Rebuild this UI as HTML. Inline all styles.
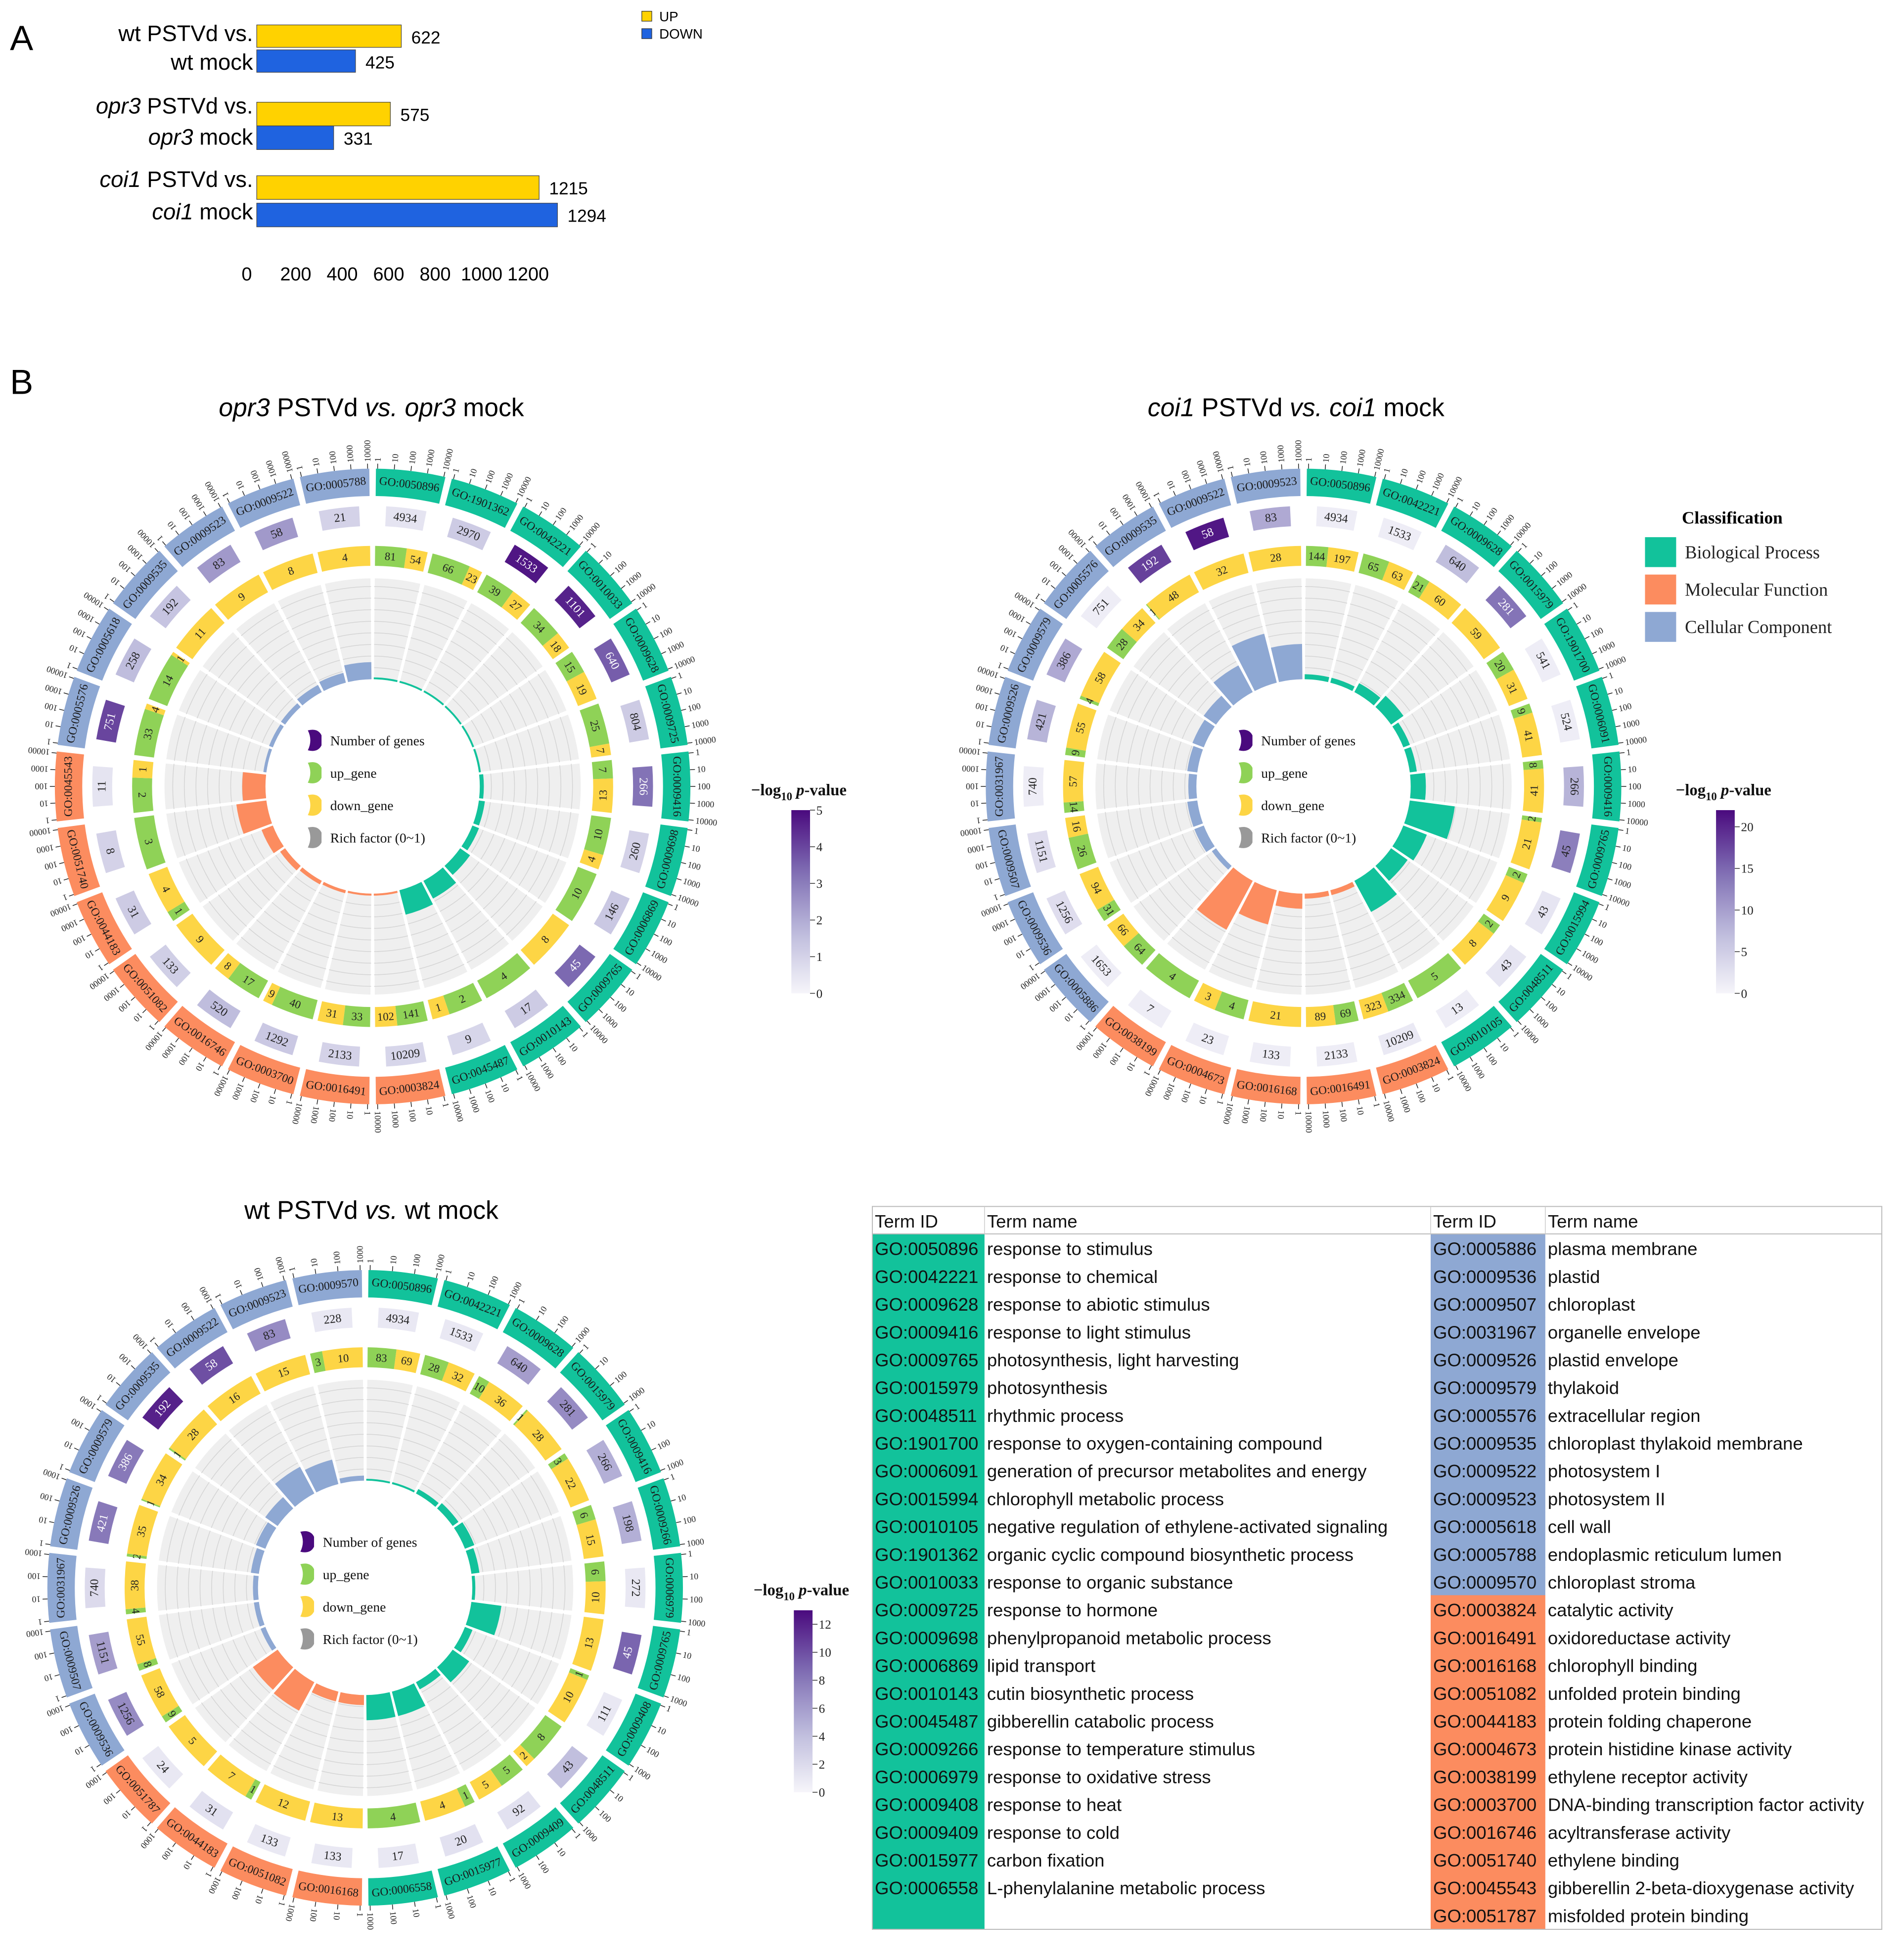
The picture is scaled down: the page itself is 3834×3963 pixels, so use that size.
<!DOCTYPE html>
<html><head><meta charset="utf-8"><style>
html,body{margin:0;padding:0;background:#fff}
svg{display:block}
</style></head><body>
<svg id="fig" xmlns="http://www.w3.org/2000/svg" width="3834" height="3963" viewBox="0 0 1521.4 1572.6">
<rect x="0" y="0" width="1521.4" height="1572.6" fill="#fff"/>
<g id="panelA"></g>
<g id="opr3"></g>
<g id="coi1"></g>
<g id="wt"></g>
<g id="legendCls"></g>
<g id="table"></g>
</svg>
<script>
// ---------- Panel A data ----------
const groupLine1 = ["wt PSTVd vs.", "opr3 PSTVd vs.", "coi1 PSTVd vs."];
const groupLine2 = ["wt mock", "opr3 mock", "coi1 mock"];
const upValues = [622, 575, 1215];
const downValues = [425, 331, 1294];
const axisTicks = [0, 200, 400, 600, 800, 1000, 1200];

// ---------- opr3 circos data ----------
const opr3Ids = ["GO:0050896","GO:1901362","GO:0042221","GO:0010033","GO:0009628","GO:0009725","GO:0009416","GO:0009698","GO:0006869","GO:0009765","GO:0010143","GO:0045487","GO:0003824","GO:0016491","GO:0003700","GO:0016746","GO:0051082","GO:0044183","GO:0051740","GO:0045543","GO:0005576","GO:0005618","GO:0009535","GO:0009523","GO:0009522","GO:0005788"];
const opr3Cls = ["B","B","B","B","B","B","B","B","B","B","B","B","M","M","M","M","M","M","M","M","C","C","C","C","C","C"];
const opr3Genes = [4934,2970,1533,1101,640,804,266,260,146,45,17,9,10209,2133,1292,520,133,31,8,11,751,258,192,83,58,21];
const opr3P = [0.5,1.2,4.8,4.6,3.6,1.2,3.2,1.0,1.3,3.4,1.2,0.9,0.9,1.0,1.3,1.6,1.1,1.2,1.0,0.5,4.0,1.6,1.4,2.4,2.4,1.0];
const opr3Up = [81,66,39,34,15,25,7,10,10,0,4,2,141,33,40,17,0,1,3,2,33,14,0,0,0,0];
const opr3Down = [54,23,27,18,19,7,13,4,0,8,0,1,102,31,9,8,9,4,0,1,4,1,11,9,8,4];
const opr3Rich = [0.01,0.01,0.01,0.015,0.015,0.02,0.04,0.06,0.07,0.12,0.2,0.25,0.02,0.02,0.03,0.04,0.06,0.12,0.3,0.23,0.03,0.04,0.05,0.08,0.1,0.17];

// ---------- coi1 circos data ----------
const coi1Ids = ["GO:0050896","GO:0042221","GO:0009628","GO:0015979","GO:1901700","GO:0006091","GO:0009416","GO:0009765","GO:0015994","GO:0048511","GO:0010105","GO:0003824","GO:0016491","GO:0016168","GO:0004673","GO:0038199","GO:0005886","GO:0009536","GO:0009507","GO:0031967","GO:0009526","GO:0009579","GO:0005576","GO:0009535","GO:0009522","GO:0009523"];
const coi1Cls = ["B","B","B","B","B","B","B","B","B","B","B","M","M","M","M","M","C","C","C","C","C","C","C","C","C","C"];
const coi1Genes = [4934,1533,640,281,541,524,266,45,43,43,13,10209,2133,133,23,7,1653,1256,1151,740,421,386,751,192,58,83];
const coi1P = [1,1,7,14,1,1,8,13,2,2,1,1.5,1,1,1,1,1,3,3,1,8,9,1,18,21,9];
const coi1Up = [144,65,21,0,20,9,8,2,2,2,5,334,69,0,4,4,64,31,26,14,9,4,28,1,0,0];
const coi1Down = [197,63,60,59,31,41,41,21,9,8,0,323,89,21,3,0,66,94,16,57,55,58,34,48,32,28];
const coi1Rich = [0.05,0.05,0.1,0.15,0.07,0.07,0.15,0.45,0.25,0.2,0.35,0.05,0.05,0.15,0.35,0.55,0.05,0.1,0.1,0.08,0.1,0.12,0.15,0.3,0.5,0.35];

// ---------- wt circos data ----------
const wtIds = ["GO:0050896","GO:0042221","GO:0009628","GO:0015979","GO:0009416","GO:0009266","GO:0006979","GO:0009765","GO:0009408","GO:0048511","GO:0009409","GO:0015977","GO:0006558","GO:0016168","GO:0051082","GO:0044183","GO:0051787","GO:0009536","GO:0009507","GO:0031967","GO:0009526","GO:0009579","GO:0009535","GO:0009522","GO:0009523","GO:0009570"];
const wtCls = ["B","B","B","B","B","B","B","B","B","B","B","B","B","M","M","M","M","C","C","C","C","C","C","C","C","C"];
const wtGenes = [4934,1533,640,281,266,198,272,45,111,43,92,20,17,133,133,31,24,1256,1151,740,421,386,192,58,83,228];
const wtP = [1,1,6,7,5,5,1,9,1,4,1.5,1.5,1,1,1,1.5,1,7,6,2,8,8,12,10,7,1];
const wtUp = [83,28,10,1,3,6,6,0,1,8,5,1,4,0,0,1,0,9,8,4,2,1,1,0,0,3];
const wtDown = [69,32,36,28,22,15,10,13,10,2,5,4,0,13,12,7,5,58,55,38,35,34,28,16,15,10];
const wtRich = [0.01,0.02,0.05,0.07,0.1,0.08,0.03,0.3,0.08,0.2,0.08,0.25,0.25,0.1,0.1,0.32,0.3,0.05,0.05,0.05,0.08,0.1,0.15,0.3,0.25,0.05];

// ---------- table data ----------
const leftIds = ["GO:0050896","GO:0042221","GO:0009628","GO:0009416","GO:0009765","GO:0015979","GO:0048511","GO:1901700","GO:0006091","GO:0015994","GO:0010105","GO:1901362","GO:0010033","GO:0009725","GO:0009698","GO:0006869","GO:0010143","GO:0045487","GO:0009266","GO:0006979","GO:0009408","GO:0009409","GO:0015977","GO:0006558"];
const leftNames = ["response to stimulus","response to chemical","response to abiotic stimulus","response to light stimulus","photosynthesis, light harvesting","photosynthesis","rhythmic process","response to oxygen-containing compound","generation of precursor metabolites and energy","chlorophyll metabolic process","negative regulation of ethylene-activated signaling","organic cyclic compound biosynthetic process","response to organic substance","response to hormone","phenylpropanoid metabolic process","lipid transport","cutin biosynthetic process","gibberellin catabolic process","response to temperature stimulus","response to oxidative stress","response to heat","response to cold","carbon fixation","L-phenylalanine metabolic process"];
const rightIds = ["GO:0005886","GO:0009536","GO:0009507","GO:0031967","GO:0009526","GO:0009579","GO:0005576","GO:0009535","GO:0009522","GO:0009523","GO:0005618","GO:0005788","GO:0009570","GO:0003824","GO:0016491","GO:0016168","GO:0051082","GO:0044183","GO:0004673","GO:0038199","GO:0003700","GO:0016746","GO:0051740","GO:0045543","GO:0051787"];
const rightNames = ["plasma membrane","plastid","chloroplast","organelle envelope","plastid envelope","thylakoid","extracellular region","chloroplast thylakoid membrane","photosystem I","photosystem II","cell wall","endoplasmic reticulum lumen","chloroplast stroma","catalytic activity","oxidoreductase activity","chlorophyll binding","unfolded protein binding","protein folding chaperone","protein histidine kinase activity","ethylene receptor activity","DNA-binding transcription factor activity","acyltransferase activity","ethylene binding","gibberellin 2-beta-dioxygenase activity","misfolded protein binding"];
const rightCls = ["C","C","C","C","C","C","C","C","C","C","C","C","C","M","M","M","M","M","M","M","M","M","M","M","M"];

const NS = "http://www.w3.org/2000/svg";
const CLS_COL = {B:"#12c29b", M:"#fc8c5f", C:"#8ea8d3"};
const UPC = "#8fd257", DOWNC = "#fdd545", GRAY = "#efefef";
const SERIF = '"Liberation Serif", serif', SANS = '"Liberation Sans", sans-serif';

function mk(tag, attrs, parent){ const e=document.createElementNS(NS,tag); for(const k in attrs) e.setAttribute(k,attrs[k]); if(parent) parent.appendChild(e); return e; }
function pt(cx,cy,r,a){ const t=a*Math.PI/180; return [cx+r*Math.sin(t), cy-r*Math.cos(t)]; }
function arcPath(cx,cy,r0,r1,a0,a1){
  const large = (a1-a0)>180?1:0;
  const p1=pt(cx,cy,r1,a0), p2=pt(cx,cy,r1,a1), p3=pt(cx,cy,r0,a1), p4=pt(cx,cy,r0,a0);
  return `M${p1[0]},${p1[1]}A${r1},${r1} 0 ${large} 1 ${p2[0]},${p2[1]}L${p3[0]},${p3[1]}A${r0},${r0} 0 ${large} 0 ${p4[0]},${p4[1]}Z`;
}
function readable(t){ t=((t%360)+360)%360; if(t>90&&t<270) return t-180; return t; }
function lerp(a,b,t){ return a+(b-a)*t; }
function hex(c){ return [parseInt(c.slice(1,3),16),parseInt(c.slice(3,5),16),parseInt(c.slice(5,7),16)]; }
function pColor(v,max){
  const stops=[hex("#f6f5fa"),hex("#bdbbdc"),hex("#7e6db3"),hex("#4a0a7e")];
  let t=Math.max(0,Math.min(1,v/max))*(stops.length-1); const i=Math.min(stops.length-2,Math.floor(t)); const f=t-i;
  const c=stops[i].map((x,k)=>Math.round(lerp(x,stops[i+1][k],f)));
  return `rgb(${c[0]},${c[1]},${c[2]})`;
}

// ---------- Panel A ----------
(function(){
  const g=document.getElementById("panelA");
  const x0=206, sc=0.1865;
  const xs=v=>x0+v*sc;
  const t=mk("text",{x:8,y:40,"font-family":SANS,"font-size":28,fill:"#000"},g); t.textContent="A";
  
  
  const upY=[20,82,141], downY=[40,101,163], h=[18,19,19];
  const l1Y=[33,91,150], l2Y=[56,116,176];
  for(let i=0;i<3;i++){
    const r1=mk("rect",{x:xs(0),y:upY[i],width:upValues[i]*sc,height:h[i],fill:"#ffd200",stroke:"#444","stroke-width":0.5},g);
    
    
    const r2=mk("rect",{x:xs(0),y:downY[i],width:downValues[i]*sc,height:h[i],fill:"#1f63e0",stroke:"#444","stroke-width":0.5},g);
    
    
    const v1=mk("text",{x:xs(upValues[i])+8,y:upY[i]+15,"font-family":SANS,"font-size":14,fill:"#000"},g); v1.textContent=upValues[i];
    
    
    const v2=mk("text",{x:xs(downValues[i])+8,y:downY[i]+15,"font-family":SANS,"font-size":14,fill:"#000"},g); v2.textContent=downValues[i];
    
    
    const a=mk("text",{x:203,y:l1Y[i],"text-anchor":"end","font-family":SANS,"font-size":18,fill:"#000"},g);
    
    
    const b=mk("text",{x:203,y:l2Y[i],"text-anchor":"end","font-family":SANS,"font-size":18,fill:"#000"},g);
    
    
    if(i===0){ a.textContent=groupLine1[i]; b.textContent=groupLine2[i]; }
    else { const gn=groupLine1[i].split(" ")[0];
      const s1=mk("tspan",{"font-style":"italic"},a); s1.textContent=gn; const s2=mk("tspan",{},a); s2.textContent=groupLine1[i].slice(gn.length);
      const s3=mk("tspan",{"font-style":"italic"},b); s3.textContent=gn; const s4=mk("tspan",{},b); s4.textContent=groupLine2[i].slice(gn.length); }
  }
  axisTicks.forEach((v,i)=>{ const tt=mk("text",{x:xs(v)-(v===0?8:6),y:225,"text-anchor":"middle","font-family":SANS,"font-size":15,fill:"#000"},g); tt.textContent=v;
    
     });
  const lg=mk("g",{},g);
  
  
  mk("rect",{x:515,y:9,width:8,height:8,fill:"#ffd200",stroke:"#333","stroke-width":0.5},lg);
  mk("rect",{x:515,y:23,width:8,height:8,fill:"#1f63e0",stroke:"#333","stroke-width":0.5},lg);
  const u=mk("text",{x:529,y:17,"font-family":SANS,"font-size":11},lg); u.textContent="UP";
  const d=mk("text",{x:529,y:31,"font-family":SANS,"font-size":11},lg); d.textContent="DOWN";
})();

// ---------- Circos ----------
function circos(gid,cx,cy,ids,cls,genes,pv,up,down,rich,pmax,ticks,title,cb){
  const g=document.getElementById(gid);
  const n=ids.length, step=360/n;
  const RL0=233,RL1=255,RG0=209,RG1=225,RU0=177,RU1=193,RB0=86,RB1=167;
  // gray rings
  for(let i=0;i<n;i++){
    const a0=i*step,a1=(i+1)*step;
    const s=mk("path",{d:arcPath(cx,cy,RB0,RB1,a0+0.6,a1-0.6),fill:GRAY},g);
    
    
  }
  for(let k=1;k<=8;k++){ mk("circle",{cx:cx,cy:cy,r:RB0+k*9.3,fill:"none",stroke:"#d4d4d4","stroke-width":0.6},g); }
  for(let i=0;i<n;i++){ const a=i*step; const p0=pt(cx,cy,RB0-1,a),p1=pt(cx,cy,RB1+1,a);
    mk("line",{x1:p0[0],y1:p0[1],x2:p1[0],y2:p1[1],stroke:"#fff","stroke-width":2.4},g); }
  for(let i=0;i<n;i++){
    const a0=i*step,a1=(i+1)*step,mid=(a0+a1)/2,col=CLS_COL[cls[i]];
    // label band
    const lb=mk("path",{d:arcPath(cx,cy,RL0,RL1,a0+0.6,a1-0.6),fill:col},g);
    
    
    const lp=pt(cx,cy,(RL0+RL1)/2,mid);
    const lt=mk("text",{x:lp[0],y:lp[1],"text-anchor":"middle","dominant-baseline":"central","font-family":SERIF,"font-size":9.3,fill:"#1a1a1a",transform:`rotate(${readable(mid)} ${lp[0]} ${lp[1]})`},g);
    lt.textContent=ids[i];
    
    
    // ticks
    ticks.forEach((tv,k)=>{ const ang=a0+0.9+k/(ticks.length-1)*(step-1.8);
      const q0=pt(cx,cy,RL1,ang),q1=pt(cx,cy,RL1+4,ang),q2=pt(cx,cy,RL1+5.5,ang);
      mk("line",{x1:q0[0],y1:q0[1],x2:q1[0],y2:q1[1],stroke:"#222","stroke-width":0.6},g);
      const tt=mk("text",{x:q2[0],y:q2[1],"dominant-baseline":"central","font-family":SERIF,"font-size":7,fill:"#222",transform:`rotate(${ang-90} ${q2[0]} ${q2[1]})`},g);
      tt.textContent=tv;
      
      
    });
    // genes box
    const gb=mk("path",{d:arcPath(cx,cy,RG0,RG1,mid-step*0.3,mid+step*0.3),fill:pColor(pv[i],pmax)},g);
    
    
    const gp=pt(cx,cy,(RG0+RG1)/2,mid);
    const gt=mk("text",{x:gp[0],y:gp[1],"text-anchor":"middle","dominant-baseline":"central","font-family":SERIF,"font-size":9.5,fill:(pv[i]>0.6*pmax?"#fff":"#222"),transform:`rotate(${readable(mid)} ${gp[0]} ${gp[1]})`},g);
    gt.textContent=genes[i];
    
    
    // up/down
    const tot=up[i]+down[i], s0=a0+0.6, s1=a1-0.6, sp=s0+(s1-s0)*(tot?up[i]/tot:0);
    if(up[i]>0){ const u=mk("path",{d:arcPath(cx,cy,RU0,RU1,s0,sp),fill:UPC},g);
      
      
      const m=(s0+sp)/2, p=pt(cx,cy,(RU0+RU1)/2,m);
      const t=mk("text",{x:p[0],y:p[1],"text-anchor":"middle","dominant-baseline":"central","font-family":SERIF,"font-size":9,fill:"#222",transform:`rotate(${readable(m)} ${p[0]} ${p[1]})`},g); t.textContent=up[i]; }
    if(down[i]>0){ const d=mk("path",{d:arcPath(cx,cy,RU0,RU1,sp,s1),fill:DOWNC},g);
      
      
      const m=(sp+s1)/2, p=pt(cx,cy,(RU0+RU1)/2,m);
      const t=mk("text",{x:p[0],y:p[1],"text-anchor":"middle","dominant-baseline":"central","font-family":SERIF,"font-size":9,fill:"#222",transform:`rotate(${readable(m)} ${p[0]} ${p[1]})`},g); t.textContent=down[i]; }
    // rich factor bar
    const rb=mk("path",{d:arcPath(cx,cy,RB0,RB0+Math.max(1.5,rich[i]*(RB1-RB0)),a0+0.6,a1-0.6),fill:col},g);
    
    
  }
  // inner legend
  const items=["Number of genes","up_gene","down_gene","Rich factor (0~1)"], ic=["#4a0a7e",UPC,DOWNC,"#999"];
  items.forEach((s,k)=>{ const y=cy-37+k*26;
    const ip=mk("path",{d:`M${cx-52},${y-8} Q${cx-44},${y-10} ${cx-41},${y-4} L${cx-41},${y+4} Q${cx-44},${y+10} ${cx-52},${y+8} Q${cx-48},${y} ${cx-52},${y-8}Z`,fill:ic[k]},g);
    
    
    const t=mk("text",{x:cx-34,y:y+4,"font-family":SERIF,"font-size":11,fill:"#111"},g); t.textContent=s;
    
    
  });
  // title
  const tt=mk("text",{x:title.x,y:title.y,"text-anchor":"middle","font-family":SANS,"font-size":20.5,fill:"#000"},g);
  
  
  title.parts.forEach(p=>{ const s=mk("tspan",p[1]?{"font-style":"italic"}:{},tt); s.textContent=p[0]; });
  // colorbar
  const gid2=gid+"grad";
  const defs=mk("defs",{},g); const lgd=mk("linearGradient",{id:gid2,x1:0,y1:1,x2:0,y2:0},defs);
  for(let k=0;k<=10;k++){ mk("stop",{offset:k/10,"stop-color":pColor(k/10*pmax,pmax)},lgd); }
  const cr=mk("rect",{x:cb.x,y:cb.y,width:15,height:cb.h,fill:`url(#${gid2})`},g);
  
  
  const ct=mk("text",{x:cb.x+6,y:cb.y-12,"text-anchor":"middle","font-family":SERIF,"font-size":13,"font-weight":"bold",fill:"#111"},g);
  
  
  const c1=mk("tspan",{},ct); c1.textContent="\u2212log";
  const c2=mk("tspan",{"font-size":9,dy:4},ct); c2.textContent="10";
  const c3=mk("tspan",{dy:-4},ct); c3.textContent=" ";
  const c4=mk("tspan",{"font-style":"italic"},ct); c4.textContent="p";
  const c5=mk("tspan",{},ct); c5.textContent="-value";
  cb.ticks.forEach(v=>{ const y=cb.y+cb.h*(1-v/pmax);
    mk("line",{x1:cb.x+15,y1:y,x2:cb.x+19,y2:y,stroke:"#333","stroke-width":0.6},g);
    const t=mk("text",{x:cb.x+20,y:y+3.5,"font-family":SERIF,"font-size":10,fill:"#222"},g); t.textContent=v;
    
     });
}

circos("opr3",299,631,opr3Ids,opr3Cls,opr3Genes,opr3P,opr3Up,opr3Down,opr3Rich,5,[1,10,100,1000,10000],
  {x:298,y:334,parts:[["opr3",1],[" PSTVd ",0],["vs.",1],[" ",0],["opr3",1],[" mock",0]]},
  {x:635,y:650,h:147,ticks:[0,1,2,3,4,5]});
circos("coi1",1046,631,coi1Ids,coi1Cls,coi1Genes,coi1P,coi1Up,coi1Down,coi1Rich,22,[1,10,100,1000,10000],
  {x:1040,y:334,parts:[["coi1",1],[" PSTVd ",0],["vs.",1],[" ",0],["coi1",1],[" mock",0]]},
  {x:1377,y:650,h:147,ticks:[0,5,10,15,20]});
circos("wt",293,1274,wtIds,wtCls,wtGenes,wtP,wtUp,wtDown,wtRich,13,[1,10,100,1000],
  {x:298,y:978,parts:[["wt PSTVd ",0],["vs.",1],[" wt mock",0]]},
  {x:637,y:1292,h:146,ticks:[0,2,4,6,8,10,12]});

// B label
(function(){ const t=mk("text",{x:8,y:316,"font-family":SANS,"font-size":28,fill:"#000"},document.getElementById("fig")); t.textContent="B";
  
   })();

// Classification legend
(function(){ const g=document.getElementById("legendCls");
  const t=mk("text",{x:1390,y:420,"text-anchor":"middle","font-family":SERIF,"font-size":14,"font-weight":"bold"},g); t.textContent="Classification";
  const names=["Biological Process","Molecular Function","Cellular Component"], cs=["B","M","C"];
  names.forEach((s,k)=>{ const r=mk("rect",{x:1320,y:431+k*30,width:25,height:24,fill:CLS_COL[cs[k]]},g);
    
    
    const tx=mk("text",{x:1352,y:448+k*30,"font-family":SERIF,"font-size":14.5,fill:"#222"},g); tx.textContent=s;
    
     });
})();

// Table
(function(){ const g=document.getElementById("table");
  const X0=700,X1=790,X2=1148,X3=1240,X4=1510,Y0=968,YH=990,RH=22.3,YB=1548;
  mk("rect",{x:X0,y:YH,width:X1-X0,height:YB-YH,fill:CLS_COL.B},g);
  rightIds.forEach((id,i)=>{ mk("rect",{x:X2,y:YH+i*RH,width:X3-X2,height:RH+0.3,fill:CLS_COL[rightCls[i]]},g); });
  mk("rect",{x:X0,y:Y0,width:X4-X0,height:YB-Y0,fill:"none",stroke:"#bbb","stroke-width":0.8},g);
  mk("line",{x1:X0,y1:YH,x2:X4,y2:YH,stroke:"#bbb","stroke-width":0.8},g);
  [X1,X2,X3].forEach(x=>mk("line",{x1:x,y1:Y0,x2:x,y2:YH,stroke:"#ccc","stroke-width":0.6},g));
  const hdr=[[X0+2,"Term ID"],[X1+2,"Term name"],[X2+2,"Term ID"],[X3+2,"Term name"]];
  hdr.forEach(h=>{ const t=mk("text",{x:h[0],y:985,"font-family":SANS,"font-size":14.5,fill:"#111"},g); t.textContent=h[1];
    
     });
  leftIds.forEach((id,i)=>{ const y=YH+i*RH+17;
    const a=mk("text",{x:X0+2,y:y,"font-family":SANS,"font-size":14.5,fill:"#111"},g); a.textContent=id;
    
    
    const b=mk("text",{x:X1+2,y:y,"font-family":SANS,"font-size":14.5,fill:"#111"},g); b.textContent=leftNames[i];
    
     });
  rightIds.forEach((id,i)=>{ const y=YH+i*RH+17;
    const a=mk("text",{x:X2+2,y:y,"font-family":SANS,"font-size":14.5,fill:"#111"},g); a.textContent=id;
    
    
    const b=mk("text",{x:X3+2,y:y,"font-family":SANS,"font-size":14.5,fill:"#111"},g); b.textContent=rightNames[i];
    
     });
})();
</script>
</body></html>
